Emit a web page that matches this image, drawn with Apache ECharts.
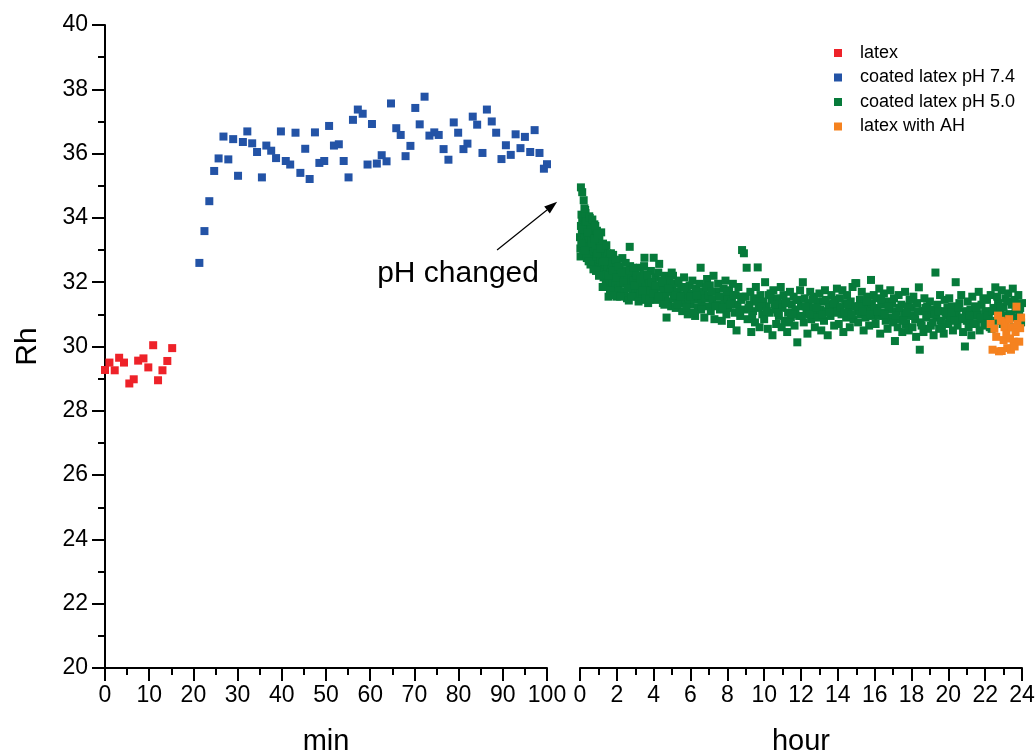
<!DOCTYPE html>
<html>
<head>
<meta charset="utf-8">
<script src="https://cdn.jsdelivr.net/npm/echarts@6/dist/echarts.min.js"></script>
<style>
html,body{margin:0;padding:0;background:#fff;}
#main{width:1035px;height:753px;}
</style>
</head>
<body>
<div id="main"></div>
<script>
var FONT = 'Liberation Sans, Arial, sans-serif';

// min panel
var latex = [[0,29.27],[1,29.5],[2.2,29.26],[3.2,29.65],[4.3,29.5],[5.5,28.85],[6.5,28.98],[7.5,29.56],
	[8.7,29.63],[9.8,29.35],[10.9,30.04],[12,28.95],[13,29.26],[14.1,29.55],[15.2,29.95]];

var coated74 = [[21.35,32.6],[22.5,33.59],[23.6,34.52],[24.7,35.46],[25.7,35.85],[26.8,36.53],[27.9,35.82],
	[29.0,36.45],[30.1,35.31],[31.2,36.36],[32.2,36.69],[33.3,36.32],[34.4,36.05],[35.5,35.26],[36.5,36.25],
	[37.6,36.09],[38.7,35.86],[39.8,36.69],[40.9,35.77],[41.9,35.66],[43.1,36.65],[44.2,35.4],[45.3,36.15],
	[46.3,35.21],[47.5,36.66],[48.5,35.71],[49.6,35.77],[50.7,36.86],[51.8,36.25],[52.9,36.29],[54.0,35.77],
	[55.1,35.26],[56.1,37.05],[57.2,37.37],[58.3,37.24],[59.4,35.66],[60.4,36.92],[61.5,35.69],[62.6,35.95],
	[63.7,35.76],[64.7,37.56],[65.9,36.79],[66.9,36.58],[68.0,35.92],[69.1,36.24],[70.2,37.42],[71.2,36.91],
	[72.3,37.77],[73.4,36.56],[74.5,36.66],[75.5,36.58],[76.6,36.14],[77.7,35.81],[78.9,36.97],[79.9,36.65],
	[81.1,36.14],[82.0,36.31],[83.2,37.15],[84.2,36.9],[85.4,36.02],[86.4,37.37],[87.5,37.0],[88.5,36.65],
	[89.7,35.83],[90.7,36.26],[91.8,35.96],[92.9,36.6],[94.0,36.17],[95.0,36.52],[96.2,36.05],[97.2,36.73],
	[98.3,36.02],[99.3,35.53],[100.0,35.67]];

// hour panel
var coated50 = [
	[0.05,34.95],[0.12,34.8],[0.2,34.55],[0.28,34.25],[0.0,33.4],[0.02,33.05],[0.05,33.75],[0.08,34.1],[0.1,33.55],
	[0.12,33.9],[0.15,33.3],[0.18,34.0],[0.2,33.7],[0.22,33.15],[0.25,33.45],[0.28,33.85],[0.3,34.15],[0.32,33.6],
	[0.35,33.25],[0.38,33.95],[0.4,33.5],[0.42,32.95],[0.45,33.75],[0.48,33.35],[0.5,34.05],
	[0.52,33.6],[0.55,33.1],[0.58,33.85],[0.6,32.85],[0.62,33.4],[0.65,33.7],[0.68,32.7],[0.7,33.2],[0.72,33.5],
	[0.75,32.95],[0.78,33.8],[0.8,33.3],[0.82,32.6],[0.85,33.05],[0.88,33.45],[0.9,32.8],[0.92,33.6],[0.95,33.15],
	[0.98,32.5],[1.0,33.3],
	[1.02,32.9],[1.05,33.4],[1.08,32.45],[1.1,33.1],[1.12,32.7],[1.15,33.55],[1.18,32.3],[1.2,32.95],[1.22,32.6],
	[1.25,33.2],[1.28,32.15],[1.3,32.85],[1.32,32.4],[1.35,33.0],[1.38,32.55],[1.4,31.95],[1.42,32.75],[1.45,32.25],
	[1.48,32.9],
	[1.5,32.5],[1.55,31.55],[1.58,32.1],[1.6,32.7],[1.65,32.3],[1.7,31.85],[1.72,32.55],[1.75,32.0],[1.8,32.85],
	[1.85,32.2],[1.88,31.7],[1.9,32.45],[1.95,31.95],[2.0,31.55],[2.0,32.6],
	[2.05,32.15],[2.1,31.8],[2.15,32.4],[2.2,32.0],[2.25,31.6],[2.3,32.75],[2.35,32.2],[2.4,31.7],[2.45,32.35],
	[2.5,31.95],[2.55,31.5],[2.6,32.1],[2.65,31.43],[2.7,33.1],[2.72,32.5],[2.75,31.85],[2.8,32.25],[2.85,31.65],
	[2.9,32.05],[2.95,31.75],
	[3.0,32.3],[3.05,31.9],[3.1,31.55],[3.15,32.15],[3.2,31.8],[3.25,32.45],[3.3,31.65],[3.35,32.0],[3.4,31.45],
	[3.45,32.25],[3.5,32.76],[3.55,31.85],[3.6,32.1],[3.65,31.6],[3.7,31.35],[3.75,32.0],[3.8,31.75],[3.85,32.35],
	[3.9,31.5],[3.95,31.95],
	[4.0,32.76],[4.05,31.7],[4.1,32.15],[4.15,31.45],[4.2,31.9],[4.25,32.3],[4.3,32.57],[4.35,31.6],[4.4,31.85],
	[4.45,32.05],[4.5,31.35],[4.55,31.75],[4.6,32.2],[4.65,31.55],[4.7,30.9],[4.75,31.95],[4.8,31.4],[4.85,32.1],
	[4.9,31.7],[4.95,31.25],
	[5.0,31.85],[5.05,32.2],[5.1,31.5],[5.15,31.95],[5.2,31.2],[5.3,31.7],[5.35,32.05],[5.4,31.4],[5.5,31.85],
	[5.55,31.1],[5.6,31.6],[5.65,32.15],[5.7,31.35],[5.8,31.75],[5.85,31.0],[5.9,31.5],[5.95,31.9],
	[6.0,31.3],[6.05,31.65],[6.1,32.05],[6.2,31.45],[6.25,30.95],[6.3,31.8],[6.4,31.2],[6.45,31.55],[6.5,31.95],
	[6.55,32.45],[6.6,31.35],[6.7,31.7],[6.75,30.9],[6.8,31.5],[6.9,32.1],[6.95,31.25],
	[7.0,31.6],[7.05,31.9],[7.1,31.1],[7.2,31.45],[7.25,32.2],[7.3,30.85],[7.4,31.7],[7.45,31.3],[7.5,31.95],
	[7.6,31.15],[7.65,31.55],[7.7,30.8],[7.8,31.8],[7.85,31.35],[7.9,32.05],[7.95,31.0],
	[8.0,31.5],[8.05,31.2],[8.1,31.75],[8.2,30.7],[8.25,31.4],[8.3,31.95],[8.4,31.05],[8.45,31.6],[8.5,30.5],
	[8.55,31.3],[8.6,31.85],[8.7,30.95],[8.75,31.45],[8.8,33.0],[8.9,32.9],[8.95,31.15],
	[9.0,31.55],[9.05,32.45],[9.1,30.85],[9.2,31.3],[9.25,31.7],[9.3,30.45],[9.4,31.1],[9.45,31.5],[9.5,30.75],
	[9.55,31.85],[9.65,32.46],[9.7,31.2],[9.75,30.6],[9.8,31.6],[9.9,31.0],[9.95,31.4],
	[10.0,30.85],[10.05,32.0],[10.1,31.25],[10.2,30.55],[10.25,31.6],[10.3,31.05],[10.4,31.45],[10.45,30.35],
	[10.5,31.75],[10.6,31.15],[10.65,30.7],[10.7,31.5],[10.8,30.95],[10.85,31.35],[10.9,31.85],[10.95,30.6],
	[11.0,31.2],[11.05,31.6],[11.1,30.8],[11.2,31.4],[11.25,30.45],[11.3,31.05],[11.4,31.7],[11.45,30.9],
	[11.5,31.3],[11.6,31.55],[11.65,30.65],[11.7,31.15],[11.8,30.13],[11.85,31.45],[11.9,30.95],[11.95,31.75],
	[12.0,31.25],[12.1,32.0],[12.15,30.75],[12.2,31.5],[12.3,31.05],[12.35,30.4],[12.4,31.35],[12.5,31.7],
	[12.55,30.85],[12.6,31.2],[12.7,31.55],[12.75,30.6],[12.8,31.0],[12.9,31.4],[12.95,30.9],
	[13.0,31.65],[13.05,31.15],[13.1,30.5],[13.2,31.4],[13.25,30.8],[13.3,31.75],[13.4,31.1],[13.45,30.35],
	[13.5,31.3],[13.6,30.95],[13.65,31.6],[13.7,31.2],[13.8,30.65],[13.85,31.45],[13.9,31.05],[13.95,31.8],
	[14.0,31.25],[14.05,30.7],[14.1,31.5],[14.2,31.0],[14.25,31.75],[14.3,30.45],[14.4,31.35],[14.45,30.9],
	[14.5,31.6],[14.6,31.15],[14.65,30.6],[14.7,31.4],[14.8,31.85],[14.85,30.85],[14.9,31.25],[14.95,31.97],
	[15.0,31.97],[15.05,31.1],[15.1,30.75],[15.2,31.45],[15.25,31.0],[15.3,31.7],[15.4,30.5],[15.45,31.3],
	[15.5,30.9],[15.6,31.55],[15.65,31.15],[15.7,30.65],[15.8,32.07],[15.85,31.35],[15.9,30.95],[15.95,31.6],
	[16.0,31.2],[16.05,30.7],[16.1,31.5],[16.2,30.95],[16.25,31.8],[16.3,30.4],[16.4,31.3],[16.45,31.05],
	[16.5,31.65],[16.6,30.8],[16.65,31.4],[16.7,30.55],[16.8,31.15],[16.85,31.75],[16.9,30.9],[16.95,31.35],
	[17.0,30.75],[17.05,31.5],[17.1,30.17],[17.2,31.1],[17.25,30.6],[17.3,31.6],[17.4,30.85],[17.45,31.3],
	[17.5,30.45],[17.6,31.0],[17.65,31.7],[17.7,30.7],[17.8,31.25],[17.85,30.5],[17.9,31.45],[17.95,30.95],
	[18.0,31.2],[18.05,30.6],[18.1,31.55],[18.2,30.85],[18.25,30.3],[18.3,31.35],[18.4,31.84],[18.45,29.9],
	[18.5,30.75],[18.6,31.1],[18.65,30.45],[18.7,31.5],[18.8,30.9],[18.85,31.25],[18.9,30.55],[18.95,31.0],
	[19.0,31.4],[19.05,30.65],[19.1,31.15],[19.2,30.35],[19.3,32.3],[19.35,30.9],[19.4,31.3],[19.5,30.55],
	[19.55,31.6],[19.6,30.8],[19.7,31.1],[19.75,30.4],[19.8,31.45],[19.9,30.95],[19.95,31.2],
	[20.0,30.7],[20.05,31.5],[20.1,30.9],[20.2,31.25],[20.25,30.5],[20.4,32.0],[20.45,31.0],[20.5,30.65],
	[20.6,31.35],[20.65,30.85],[20.7,31.6],[20.8,30.45],[20.9,30.0],[20.95,31.1],
	[21.0,30.8],[21.05,31.4],[21.1,30.6],[21.2,31.15],[21.25,30.35],[21.3,31.55],[21.4,30.95],[21.45,31.25],
	[21.5,30.7],[21.6,31.0],[21.65,31.7],[21.7,30.5],[21.8,31.3],[21.85,30.85],[21.9,31.5],[21.95,30.65],
	[22.0,31.1],[22.05,30.75],[22.1,31.45],[22.2,30.9],[22.3,31.6],[22.35,30.55],[22.45,31.2],[22.55,31.84],
	[22.6,30.8],[22.7,31.35],[22.8,31.05],[22.9,31.75],[22.95,30.7],
	[23.0,31.2],[23.1,31.5],[23.15,30.85],[23.25,31.65],[23.35,31.0],[23.45,31.3],[23.55,30.6],[23.6,31.45],
	[23.7,30.9],[23.8,31.6],[23.85,31.1],[23.95,30.75],[24.0,31.35],
	// second pass, filling the band
	[0.03,32.8],[0.07,33.2],[0.14,33.65],[0.17,32.9],[0.24,34.3],[0.27,33.0],[0.33,33.9],[0.37,32.75],[0.43,33.55],
	[0.47,32.65],[0.53,34.0],[0.57,32.55],[0.63,33.25],[0.67,33.95],[0.73,32.4],[0.77,33.35],[0.83,33.75],
	[0.87,32.35],[0.93,32.9],[0.97,33.5],
	[1.03,32.2],[1.13,33.05],[1.23,31.85],[1.33,32.65],[1.43,33.15],[1.53,32.2],[1.63,31.75],[1.68,32.9],
	[1.78,32.35],[1.83,31.6],[1.93,32.7],[1.98,32.15],
	[2.08,32.5],[2.18,31.55],[2.28,32.3],[2.38,32.0],[2.48,32.6],[2.58,31.8],[2.68,32.35],[2.78,31.55],[2.88,32.45],
	[2.98,31.9],[3.08,32.2],[3.18,31.4],[3.28,32.1],[3.38,31.75],[3.48,32.5],[3.58,31.5],[3.68,32.2],[3.78,31.45],
	[3.88,32.0],[3.98,31.65],
	[4.08,31.9],[4.28,31.55],[4.48,32.0],[4.58,31.3],[4.78,31.8],[4.98,32.3],[5.18,31.6],[5.28,31.3],[5.48,31.55],
	[5.68,31.85],[5.78,31.2],[5.98,31.55],[6.15,31.05],[6.35,31.6],[6.58,31.15],[6.85,31.85],[7.15,31.7],
	[7.35,31.25],[7.55,31.55],[7.75,31.2],[7.98,31.7],
	[8.15,31.3],[8.35,31.6],[8.65,31.1],[8.85,31.55],[9.15,31.2],[9.35,30.95],[9.6,31.4],[9.85,31.25],[10.15,31.1],
	[10.35,31.65],[10.55,31.3],[10.75,31.05],[11.15,31.35],[11.35,30.75],[11.55,31.0],[11.75,31.45],[12.05,30.95],
	[12.25,31.25],[12.45,31.0],[12.65,31.45],[12.85,31.2],[13.15,31.0],[13.35,31.45],[13.55,31.05],[13.75,31.35],
	[14.15,31.2],[14.35,31.05],[14.55,31.3],[14.75,31.0],[15.15,31.25],[15.35,31.1],[15.55,31.4],[15.75,31.0],
	[16.15,31.1],[16.35,31.45],[16.55,31.0],[16.75,31.25],[17.15,30.95],[17.35,31.2],[17.55,30.8],[17.75,31.05],
	[18.15,30.95],[18.35,31.1],[18.55,30.65],[18.75,31.2],[19.15,30.75],[19.25,31.0],[19.45,31.1],[19.65,30.6],
	[19.85,31.05],[20.15,31.05],[20.35,30.8],[20.55,31.2],[20.75,30.9],[21.15,30.95],[21.35,30.7],[21.55,31.2],
	[21.75,30.9],[22.15,30.95],[22.25,30.6],[22.4,31.1],[22.65,31.55],[22.85,31.25],[23.05,30.95],[23.2,31.4],
	[23.4,31.0],[23.5,31.8],[23.65,31.15],[23.9,31.2]];

var latexAH = [[22.3,30.7],[22.4,29.9],[22.5,30.55],[22.6,30.3],[22.7,30.96],[22.75,29.85],[22.85,30.8],
	[22.9,29.86],[23.0,30.2],[23.05,30.6],[23.1,30.75],[23.15,30.4],[23.2,29.95],[23.3,30.85],[23.35,30.25],
	[23.4,29.9],[23.45,30.6],[23.55,30.15],[23.6,30.0],[23.65,30.45],[23.7,31.24],[23.75,30.7],[23.85,30.15],
	[23.9,30.57],[23.95,30.9]];

var seriesNames = ['latex', 'coated latex pH 7.4', 'coated latex pH 5.0', 'latex with AH'];
var seriesColors = ['#ee2229', '#2353a6', '#067a3a', '#f5821f'];

// annotation (min-axis coords): arrow from -> to
var arrowFrom = [88.7, 33.0];
var arrowTo = [102.3, 34.5];

var myChart = echarts.init(document.getElementById('main'));

function xAxisCfg(grid, max, interval, name) {
	return {
		type : 'value',
		gridIndex : grid,
		min : 0,
		max : max,
		interval : interval,
		name : name,
		nameLocation : 'middle',
		nameGap : 59,
		nameTextStyle : { fontSize : 29, color : '#000', fontFamily : FONT },
		axisLine : { onZero : false, lineStyle : { color : '#000', width : 2 } },
		axisTick : { length : 13, lineStyle : { color : '#000', width : 2 } },
		minorTick : { show : true, splitNumber : 2, length : 7, lineStyle : { color : '#000', width : 2 } },
		axisLabel : { fontSize : 23, color : '#000', fontFamily : FONT, margin : 16, showMinLabel : true, showMaxLabel : true },
		splitLine : { show : false }
	};
}

function scatter(i, axis, data) {
	return {
		name : seriesNames[i], type : 'scatter', xAxisIndex : axis, yAxisIndex : axis,
		symbol : 'rect', symbolSize : 8,
		itemStyle : { color : seriesColors[i], opacity : 1 },
		data : data
	};
}

var option = {
	animation : false,
	backgroundColor : '#fff',
	grid : [
		{ left : 105, top : 25, width : 442, height : 643, outerBoundsMode : 'none', containLabel : false },
		{ left : 580, top : 25, width : 442, height : 643, outerBoundsMode : 'none', containLabel : false }
	],
	legend : {
		orient : 'vertical',
		left : 829,
		top : 39,
		itemWidth : 8,
		itemHeight : 8,
		itemGap : 6.5,
		icon : 'rect',
		textStyle : { fontSize : 18, lineHeight : 18, color : '#000', fontFamily : FONT, padding : [0, 0, 0, 13] },
		data : seriesNames
	},
	xAxis : [
		xAxisCfg(0, 100, 10, 'min'),
		xAxisCfg(1, 24, 2, 'hour')
	],
	yAxis : [
		{
			type : 'value',
			gridIndex : 0,
			min : 20,
			max : 40,
			interval : 2,
			name : 'Rh',
			nameLocation : 'middle',
			nameGap : 62,
			nameTextStyle : { fontSize : 30, color : '#000', fontFamily : FONT },
			axisLine : { show : true, onZero : false, lineStyle : { color : '#000', width : 2 } },
			axisTick : { show : true, length : 13, lineStyle : { color : '#000', width : 2 } },
			minorTick : { show : true, splitNumber : 2, length : 7, lineStyle : { color : '#000', width : 2 } },
			axisLabel : { fontSize : 23, color : '#000', fontFamily : FONT, margin : 17 },
			splitLine : { show : false }
		},
		{
			type : 'value',
			gridIndex : 1,
			min : 20,
			max : 40,
			show : false
		}
	],
	series : [
		scatter(0, 0, latex),
		scatter(1, 0, coated74),
		scatter(2, 1, coated50),
		scatter(3, 1, latexAH)
	]
};
myChart.setOption(option);

// arrow + label, positioned through the min axis
var p0 = myChart.convertToPixel({ gridIndex : 0 }, arrowFrom);
var p1 = myChart.convertToPixel({ gridIndex : 0 }, arrowTo);
var dx = p1[0] - p0[0], dy = p1[1] - p0[1];
var len = Math.sqrt(dx * dx + dy * dy);
var ux = dx / len, uy = dy / len;
var headL = 13, headW = 4.5;
var bx = p1[0] - ux * headL, by = p1[1] - uy * headL;
myChart.setOption({
	graphic : [
		{
			type : 'line',
			shape : { x1 : p0[0], y1 : p0[1], x2 : bx, y2 : by },
			style : { stroke : '#000', lineWidth : 1.2 }
		},
		{
			type : 'polygon',
			shape : { points : [[p1[0], p1[1]], [bx - uy * headW, by + ux * headW], [bx + uy * headW, by - ux * headW]] },
			style : { fill : '#000' }
		},
		{
			type : 'text',
			x : p0[0] - 39,
			y : p0[1] + 24,
			style : { text : 'pH changed', font : '30px ' + FONT, fill : '#000', align : 'center', verticalAlign : 'middle' }
		}
	]
});
</script>
</body>
</html>
